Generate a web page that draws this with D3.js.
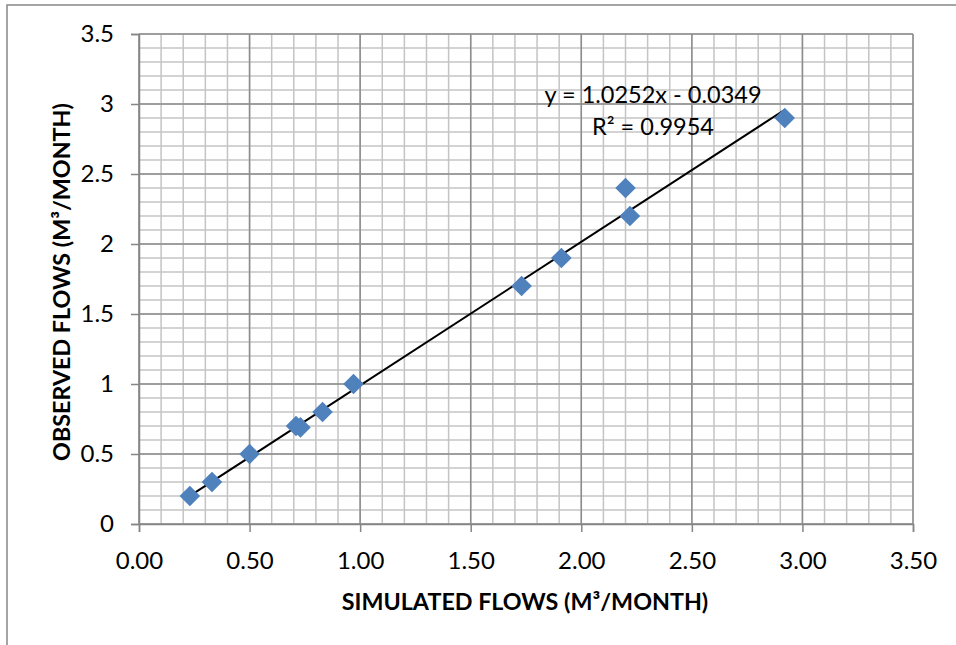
<!DOCTYPE html>
<html>
<head>
<meta charset="utf-8">
<script src="https://cdn.jsdelivr.net/npm/d3@7"></script>
<style>
  body { margin: 0; background: #fff; }
  svg { display: block; font-family: Lato, "Open Sans", sans-serif; }
</style>
</head>
<body>
<svg id="chart" width="956" height="645"></svg>
<script>
// simulated vs observed flows
var simulated = [0.23, 0.33, 0.50, 0.71, 0.73, 0.83, 0.97, 1.73, 1.91, 2.20, 2.22, 2.92];
var observed  = [0.20, 0.30, 0.50, 0.70, 0.69, 0.80, 1.00, 1.70, 1.90, 2.40, 2.20, 2.90];
var xTicks = [0, 0.5, 1, 1.5, 2, 2.5, 3, 3.5];
var yTicks = [0, 0.5, 1, 1.5, 2, 2.5, 3, 3.5];
var slope = 1.0252, intercept = -0.0349;
var equationText = "y = 1.0252x - 0.0349";
var r2Text = "R² = 0.9954";

var margin = {top: 34, right: 43, bottom: 121, left: 139},
    width = 956 - margin.left - margin.right,
    height = 645 - margin.top - margin.bottom;

var svg = d3.select("#chart");

// outer chart border
svg.append("rect")
    .attr("x", 7).attr("y", 5)
    .attr("width", 960).attr("height", 660)
    .attr("fill", "none")
    .attr("stroke", "#878787")
    .attr("stroke-width", 1.5);

var g = svg.append("g")
    .attr("transform", "translate(" + margin.left + "," + margin.top + ")");

var x = d3.scaleLinear().domain([0, 3.5]).range([0, width]);
var y = d3.scaleLinear().domain([0, 3.5]).range([height, 0]);

// minor grid every 0.1
var minor = d3.range(0, 36).map(function(i) { return i / 10; });
g.append("g").selectAll("line")
    .data(minor)
    .enter().append("line")
    .attr("x1", function(d) { return x(d); })
    .attr("x2", function(d) { return x(d); })
    .attr("y1", 0).attr("y2", height)
    .attr("stroke", "#c4c4c4").attr("stroke-width", 1.5);
g.append("g").selectAll("line")
    .data(minor)
    .enter().append("line")
    .attr("y1", function(d) { return y(d); })
    .attr("y2", function(d) { return y(d); })
    .attr("x1", 0).attr("x2", width)
    .attr("stroke", "#c4c4c4").attr("stroke-width", 1.5);

// major grid
g.append("g").selectAll("line")
    .data(xTicks)
    .enter().append("line")
    .attr("x1", function(d) { return x(d); })
    .attr("x2", function(d) { return x(d); })
    .attr("y1", 0).attr("y2", height)
    .attr("stroke", "#8c8c8c").attr("stroke-width", 1.5);
g.append("g").selectAll("line")
    .data(yTicks)
    .enter().append("line")
    .attr("y1", function(d) { return y(d); })
    .attr("y2", function(d) { return y(d); })
    .attr("x1", 0).attr("x2", width)
    .attr("stroke", "#8c8c8c").attr("stroke-width", 1.5);

// axes
var xAxis = g.append("g")
    .attr("transform", "translate(0," + height + ")")
    .call(d3.axisBottom(x).tickValues(xTicks).tickSize(8).tickPadding(20)
        .tickFormat(d3.format(".2f")));
var yAxis = g.append("g")
    .call(d3.axisLeft(y).tickValues(yTicks).tickSize(8).tickPadding(17)
        .tickFormat(function(d) { return d3.format("")(d); }));

[xAxis, yAxis].forEach(function(a) {
  a.select(".domain").attr("stroke", "#868686").attr("stroke-width", 1.5);
  a.selectAll(".tick line").attr("stroke", "#868686").attr("stroke-width", 1.5);
  a.selectAll(".tick text")
      .attr("fill", "#000")
      .style("font-family", "Lato, sans-serif")
      .style("font-size", "24px");
});

// trend line
var xMin = d3.min(simulated), xMax = d3.max(simulated);
g.append("line")
    .attr("x1", x(xMin)).attr("y1", y(slope * xMin + intercept))
    .attr("x2", x(xMax)).attr("y2", y(slope * xMax + intercept))
    .attr("stroke", "#000").attr("stroke-width", 2);

// points (diamonds)
var pts = simulated.map(function(d, i) { return {x: d, y: observed[i]}; });
g.append("g").selectAll("path")
    .data(pts)
    .enter().append("path")
    .attr("d", d3.symbol().type(d3.symbolDiamond2).size(270))
    .attr("transform", function(d) { return "translate(" + x(d.x) + "," + y(d.y) + ")"; })
    .attr("fill", "#4f81bd");

// equation labels
g.append("text")
    .attr("x", 514).attr("y", 69)
    .attr("text-anchor", "middle")
    .style("font-size", "23.5px")
    .text(equationText);
g.append("text")
    .attr("x", 514).attr("y", 101)
    .attr("text-anchor", "middle")
    .style("font-size", "23.5px")
    .text(r2Text);

// axis titles
svg.append("text")
    .attr("x", 525).attr("y", 610)
    .attr("text-anchor", "middle")
    .style("font-size", "23.3px").style("font-weight", "bold")
    .text("SIMULATED FLOWS (M³/MONTH)");
svg.append("text")
    .attr("transform", "translate(70,282) rotate(-90)")
    .attr("text-anchor", "middle")
    .style("font-size", "23.3px").style("font-weight", "bold")
    .text("OBSERVED FLOWS (M³/MONTH)");
</script>
</body>
</html>
